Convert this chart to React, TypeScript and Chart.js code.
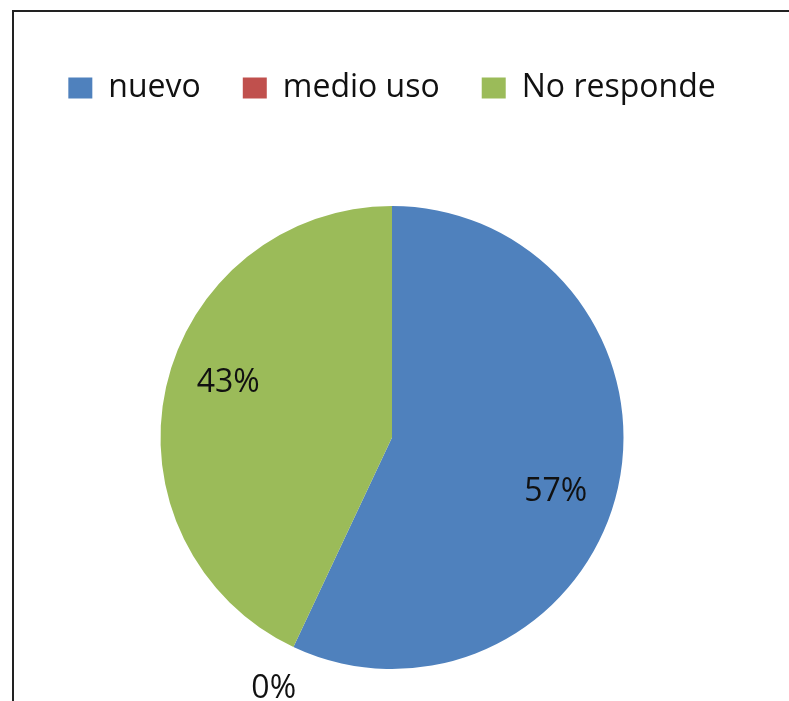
import React, { useEffect, useRef } from "react";
import { Chart, registerables } from "chart.js";

Chart.register(...registerables);

const categories = ["nuevo", "medio uso", "No responde"];
const values = [57, 0, 43];
const colors = ["#4F81BD", "#C0504D", "#9BBB59"];

const FONT = "'Open Sans', 'DejaVu Sans', sans-serif";

const pctLabels = {
  id: "pctLabels",
  afterDatasetsDraw(chart: any) {
    const ctx = chart.ctx;
    const meta = chart.getDatasetMeta(0);
    const total = values.reduce((a, b) => a + b, 0);
    ctx.save();
    ctx.font = `32px ${FONT}`;
    ctx.fillStyle = "#111111";
    ctx.textAlign = "center";
    ctx.textBaseline = "middle";
    meta.data.forEach((arc: any, i: number) => {
      const p = arc.getProps(["x", "y", "startAngle", "endAngle", "outerRadius"], true);
      const zero = values[i] === 0;
      const mid = (p.startAngle + p.endAngle) / 2 + (zero ? 0 : 0.1);
      const r = zero ? p.outerRadius * 1.2 : p.outerRadius * 0.745;
      const txt = Math.round((values[i] / total) * 100) + "%";
      ctx.fillText(txt, p.x + Math.cos(mid) * r, p.y + Math.sin(mid) * r);
    });
    ctx.restore();
  },
};

const legendGap = {
  id: "legendGap",
  beforeInit(chart: any) {
    const legend = chart.legend;
    if (!legend) return;
    const origFit = legend.fit;
    legend.fit = function () {
      origFit.call(this);
      this.height += 92;
    };
  },
};

export default function App() {
  const ref = useRef<HTMLCanvasElement | null>(null);
  useEffect(() => {
    if (!ref.current) return;
    const chart = new Chart(ref.current, {
      type: "pie",
      data: {
        labels: categories,
        datasets: [
          {
            data: values,
            backgroundColor: colors,
            borderWidth: 0,
          },
        ],
      },
      options: {
        responsive: false,
        animation: false,
        layout: { padding: { top: 30, left: 0, right: 5, bottom: 32 } },
        plugins: {
          legend: {
            position: "top",
            labels: {
              boxWidth: 24,
              boxHeight: 21,
              padding: 42,
              color: "#111111",
              font: { family: FONT, size: 32 },
            },
          },
          tooltip: { enabled: false },
        },
      },
      plugins: [legendGap, pctLabels],
    });
    return () => chart.destroy();
  }, []);

  return (
    <div
      style={{
        position: "fixed",
        left: 0,
        top: 0,
        width: 789,
        height: 701,
        overflow: "hidden",
        background: "#ffffff",
      }}
    >
      <div
        style={{
          position: "absolute",
          left: 12,
          top: 10,
          width: 900,
          height: 900,
          border: "2px solid #222222",
          boxSizing: "border-box",
        }}
      />
      <canvas
        ref={ref}
        width={789}
        height={701}
        style={{ position: "absolute", left: 0, top: 0 }}
      />
    </div>
  );
}
